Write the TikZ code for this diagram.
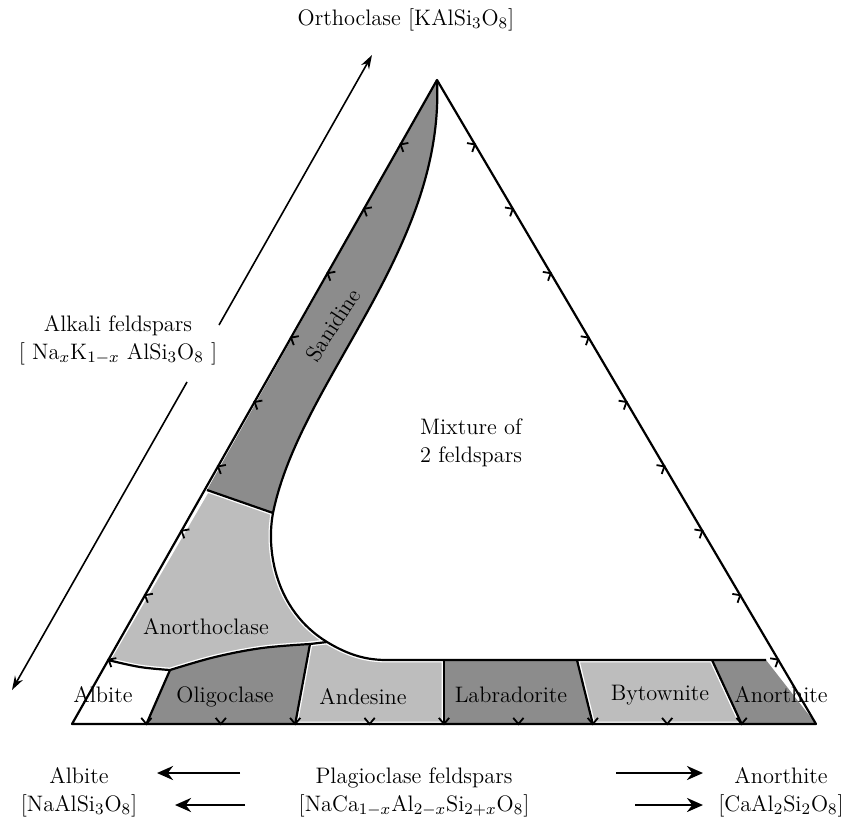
\documentclass[tikz,border=0pt]{standalone}
\usepackage{amsmath}
\usetikzlibrary{arrows.meta,calc}

\definecolor{darkfill}{gray}{0.55}
\definecolor{lightfill}{gray}{0.74}

\begin{document}
\begin{tikzpicture}[
    x=0.5pt, y=-0.5pt,
    font=\fontsize{11.2}{14}\selectfont,
    dark/.style={fill=darkfill},
    light/.style={fill=lightfill, draw=white, line width=2.4pt},
    edge/.style={line width=1.1pt, line join=round},
    tick/.style={line width=0.9pt},
    lbl/.style={inner sep=1pt},
    duo/.style={align=center, inner sep=1pt},
    arr/.style={-{Stealth[length=7pt, width=4.5pt]}, line width=0.8pt},
    fat/.style={-{Stealth[length=8pt, width=7pt]}, line width=1.4pt}
]
\useasboundingbox (0,0) rectangle (855,821);

% corners of the ternary
\coordinate (Or) at (437,80);
\coordinate (Ab) at (72,724);
\coordinate (An) at (816,724);

% points where the field boundaries meet
\coordinate (sa) at (207,490);
\coordinate (sb) at (273,513);
\coordinate (aa) at (108,660);
\coordinate (ab) at (170,670);
\coordinate (ob) at (310,644);
\coordinate (oc) at (327,642);
\coordinate (ta) at (400,660);
\coordinate (t5) at (444,660);
\coordinate (t7) at (577,660);
\coordinate (t9) at (712,660);
\coordinate (te) at (766,660);
\foreach \t in {1,...,9}
    \coordinate (b\t) at ($(Ab)!\t/10!(An)$);

% light fields (white rim)
\path[light] (sa) -- (sb) .. controls (266,550) and (275,610) .. (oc) -- (ob)
    -- plot[smooth, tension=0.6] coordinates {(310,644) (262,648) (215,657) (170,670)}
    -- plot[smooth, tension=0.6] coordinates {(170,670) (140,667) (108,660)} -- cycle;
\path[light] (ob) -- (oc) .. controls (360,662) and (380,660) .. (ta)
    -- (t5) -- (b5) -- (b3) -- cycle;
\path[light] (t7) -- (t9) -- (b9) -- (b7) -- cycle;

% dark fields
\fill[dark] (Or) .. controls (445,250) and (300,380) .. (sb) -- (sa) -- cycle;
\fill[dark] plot[smooth, tension=0.6] coordinates {(170,670) (215,657) (262,648) (310,644)}
    -- (b3) -- (b1) -- cycle;
\fill[dark] (t5) -- (t7) -- (b7) -- (b5) -- cycle;
\fill[dark] (t9) -- (te) -- (An) -- (b9) -- cycle;

% outlines
\draw[edge] (Or) -- (Ab) -- (An) -- cycle;
\draw[edge] (Or) .. controls (445,250) and (300,380) .. (sb)
    .. controls (266,550) and (275,610) .. (oc)
    .. controls (360,662) and (380,660) .. (ta) -- (te);
\draw[edge] (sa) -- (sb);
\draw[edge] plot[smooth, tension=0.6] coordinates {(108,660) (140,667) (170,670)}
    -- plot[smooth, tension=0.6] coordinates {(170,670) (215,657) (262,648) (310,644)}
    -- (oc);
\draw[edge] (ab) -- (b1);
\draw[edge] (ob) -- (b3);
\draw[edge] (t5) -- (b5);
\draw[edge] (t7) -- (b7);
\draw[edge] (t9) -- (b9);

% ticks every 10 %
\foreach \t in {1,...,9} {
    \coordinate (l) at ($(Ab)!\t/10!(Or)$);
    \coordinate (r) at ($(An)!\t/10!(Or)$);
    \draw[tick] ($(l)!4pt!-50:(Or)$) -- (l) -- ($(l)!4pt!-130:(Or)$);
    \draw[tick] ($(r)!4pt!50:(Or)$) -- (r) -- ($(r)!4pt!130:(Or)$);
    \draw[tick] ($(b\t)!4pt!50:(An)$) -- (b\t) -- ($(b\t)!4pt!130:(An)$);
}

% field names
\node[lbl, rotate=57] (sanidine) at (333,325) {Sanidine};
\node[lbl] (anorthoclase) at (206,627) {Anorthoclase};
\node[lbl] (albite) at (103,695) {Albite};
\node[lbl] (oligoclase) at (225,697) {Oligoclase};
\node[lbl] (andesine) at (363,697) {Andesine};
\node[lbl] (labradorite) at (511,695) {Labradorite};
\node[lbl] (bytownite) at (660,695) {Bytownite};
\node[lbl] (anorthite) at (781,695) {Anorthite};
\node[duo, align=left] (mix) at (471,443) {Mixture of\\2 feldspars};

% end members and series
\node[lbl] (ortho) at (406,20) {Orthoclase [KAlSi$_3$O$_8$]};
\node[duo] (alkali) at (118,340) {Alkali feldspars\\{[} Na$_x$K$_{1-x}$ AlSi$_3$O$_8$ ]};
\node[duo] (abend) at (79,792) {Albite\\{[}NaAlSi$_3$O$_8$]};
\node[duo] (plag) at (414,792) {Plagioclase feldspars\\{[}NaCa$_{1-x}$Al$_{2-x}$Si$_{2+x}$O$_8$]};
\node[duo] (anend) at (781,792) {Anorthite\\{[}CaAl$_2$Si$_2$O$_8$]};

% series arrows
\coordinate (kup) at (372,55);
\coordinate (kgap1) at (219,325);
\coordinate (kgap2) at (187,382);
\coordinate (kdown) at (12,690);
\draw[arr] (kgap1) -- (kup);
\draw[arr] (kgap2) -- (kdown);
\coordinate (pl1) at (240,773);
\coordinate (pl2) at (157,773);
\coordinate (pl3) at (245,805);
\coordinate (pl4) at (175,805);
\coordinate (pr1) at (616,773);
\coordinate (pr2) at (703,773);
\coordinate (pr3) at (635,805);
\coordinate (pr4) at (703,805);
\draw[fat] (pl1) -- (pl2);
\draw[fat] (pl3) -- (pl4);
\draw[fat] (pr1) -- (pr2);
\draw[fat] (pr3) -- (pr4);
\end{tikzpicture}
\end{document}
